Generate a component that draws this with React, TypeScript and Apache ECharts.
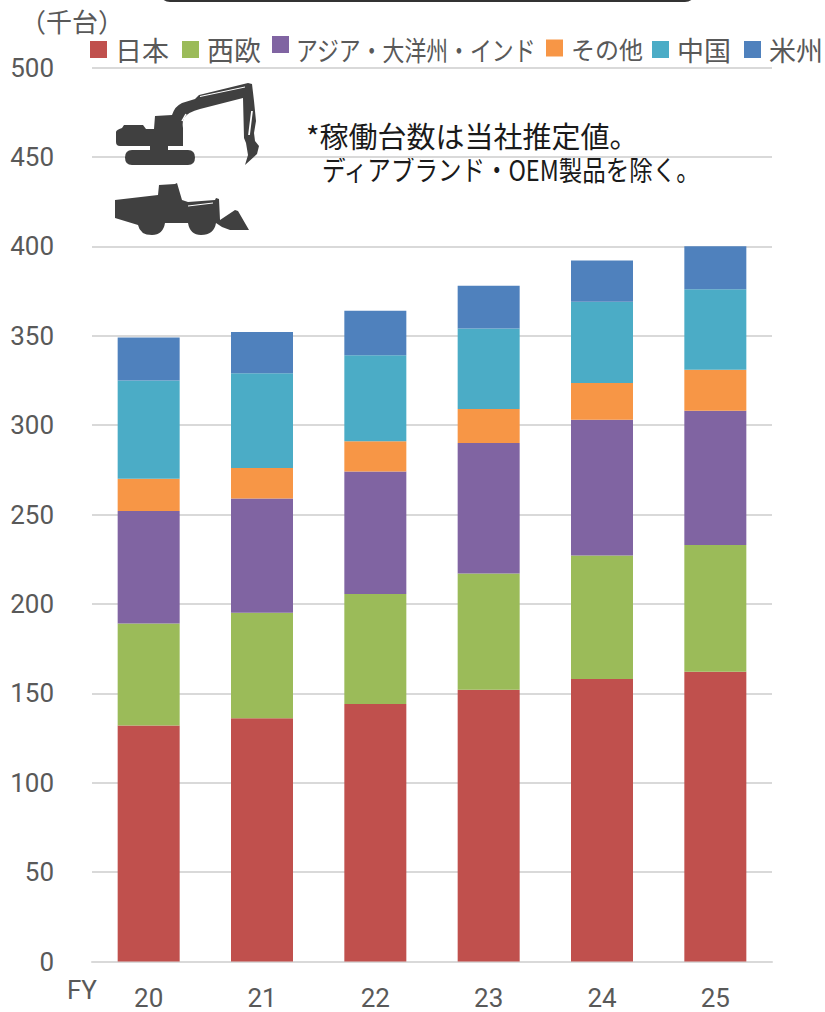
import React, { useEffect, useRef } from "react";
import * as echarts from "echarts";

const fiscalYears = ["20", "21", "22", "23", "24", "25"];
const japan = [132, 136, 144, 152, 158, 162];
const westernEurope = [57, 59, 61.5, 65, 69, 71];
const asiaOceaniaIndia = [63, 64, 68.5, 73, 76, 75];
const others = [18, 17, 17, 19, 20.5, 23];
const china = [55, 53, 48, 45, 45.5, 45];
const americas = [24, 23, 25, 24, 23, 24];

const regionNames = ["日本", "西欧", "アジア・大洋州・インド", "その他", "中国", "米州"];
const regionValues = [japan, westernEurope, asiaOceaniaIndia, others, china, americas];
const regionColors = ["#C0504D", "#9BBB59", "#8064A2", "#F79646", "#4BACC6", "#4F81BD"];
const legendLefts = [90, 182, 272, 546, 652, 744];
const legendFontSizes = [27, 27, 27, 24, 27, 27];

const JP_FONT = '"Noto Sans CJK JP", sans-serif';
const NUM_FONT = 'Roboto, sans-serif';
const GREY = "#595959";
const SILHOUETTE = "#404040";

// Machine silhouettes in page pixels.
const excavatorPath =
  "M116 132 Q116 130 122 128 L124 125 L143 125 L146 129 L154 129 L155 116 L172 115 Q175 106 182 103 L195 99 L199 95 L248 83 L252 84 L254 101 L256 121 L254 133 L255 141 L259 146 L257 154 L245 165 L248 155 L246 143 L244 138 L243 98 L200 109 Q188 112 184 118 Q182 122 183 128 L183 146 L168 146 L168 150 L188 150 Q195 150 195 157.5 Q195 165 188 165 L132 165 Q125 165 125 157.5 Q125 150 132 150 L150 150 L150 146 L120 146 Q116 146 116 142 Z";
const loaderPath =
  "M115 200 L158 195 L159 185 L175 184 L177 183 L182 200 L188 202 L215 200 L216 198 L219 199 L220 220 L235 210 L238 211 L249 230 L230 230 L222 227 L216 223 Q214 235 201 235 Q190 235 188 223 L165 223 Q163 235 152 235 Q140 235 138 225 L115 218 Z";

echarts.graphic.registerShape("excavator", echarts.graphic.extendPath(excavatorPath, {}) as any);
echarts.graphic.registerShape("wheelLoader", echarts.graphic.extendPath(loaderPath, {}) as any);

// Thin gaps between the machines' arm members.
const silhouetteGaps = [
  { shape: { x1: 200, y1: 96.5, x2: 245, y2: 87 }, width: 1 },
  { shape: { x1: 249, y1: 135, x2: 252, y2: 111 }, width: 1.8 },
  { shape: { x1: 182, y1: 121, x2: 186, y2: 114 }, width: 1.5 },
  { shape: { x1: 188, y1: 206, x2: 213, y2: 203 }, width: 1 },
];

const App = () => {
  const ref = useRef<HTMLDivElement>(null);

  useEffect(() => {
    document.body.style.background = "#fff";
    const chart = echarts.init(ref.current!, undefined, { renderer: "svg" });
    chart.setOption({
      animation: false,
      backgroundColor: "#fff",
      grid: { left: 92, right: 53, top: 67.5, height: 894, outerBoundsMode: "none" },
      legend: regionNames.map((name, i) => ({
        data: [name],
        left: legendLefts[i],
        top: 36,
        padding: 0,
        icon: "rect",
        itemWidth: 17,
        itemHeight: 17,
        selectedMode: false,
        // The long region label is set condensed as a separate text below.
        formatter: name.length > 6 ? () => "" : undefined,
        textStyle: {
          color: GREY,
          fontFamily: JP_FONT,
          fontSize: legendFontSizes[i],
          padding: [0, 0, 0, 3],
        },
      })),
      xAxis: {
        type: "category",
        data: fiscalYears,
        axisLine: { lineStyle: { color: "#D9D9D9", width: 2 } },
        axisTick: { show: false },
        axisLabel: { color: GREY, fontFamily: NUM_FONT, fontSize: 26, lineHeight: 20, margin: 26 },
      },
      yAxis: {
        type: "value",
        min: 0,
        max: 500,
        interval: 50,
        axisLine: { show: false },
        axisTick: { show: false },
        axisLabel: { color: GREY, fontFamily: NUM_FONT, fontSize: 26, margin: 38 },
        splitLine: { lineStyle: { color: "#D9D9D9", width: 2 } },
      },
      series: regionNames.map((name, i) => ({
        name,
        type: "bar",
        stack: "fleet",
        barWidth: 62,
        data: regionValues[i],
        itemStyle: { color: regionColors[i] },
      })),
      graphic: [
        {
          type: "rect",
          z: 10,
          shape: { x: 160, y: -20, width: 535, height: 21, r: 10 },
          style: { fill: "#fff", stroke: "#333", lineWidth: 2 },
        },
        { type: "excavator", z: 10, style: { fill: SILHOUETTE } },
        { type: "wheelLoader", z: 10, style: { fill: SILHOUETTE } },
        ...silhouetteGaps.map((g) => ({
          type: "line",
          z: 11,
          shape: g.shape,
          style: { stroke: "#fff", lineWidth: g.width },
        })),
        {
          type: "text",
          x: 296,
          y: 36,
          scaleX: 0.81,
          style: { text: regionNames[2], fill: GREY, font: `27px ${JP_FONT}` },
        },
        {
          type: "text",
          x: 20,
          y: 7,
          style: { text: "（千台）", fill: GREY, font: `26px ${JP_FONT}` },
        },
        {
          type: "text",
          x: 67,
          y: 977,
          style: { text: "FY", fill: GREY, font: `26px ${NUM_FONT}` },
        },
        {
          type: "text",
          x: 306,
          y: 120,
          style: { text: "*稼働台数は当社推定値。", fill: "#1a1a1a", font: `29px ${JP_FONT}` },
        },
        {
          type: "text",
          x: 322,
          y: 155,
          scaleX: 0.84,
          style: { text: "ディアブランド・OEM製品を除く。", fill: "#1a1a1a", font: `28px ${JP_FONT}` },
        },
      ],
    });
    return () => chart.dispose();
  }, []);

  return <div ref={ref} style={{ position: "fixed", left: 0, top: 0, width: 825, height: 1012 }} />;
};

export default App;
